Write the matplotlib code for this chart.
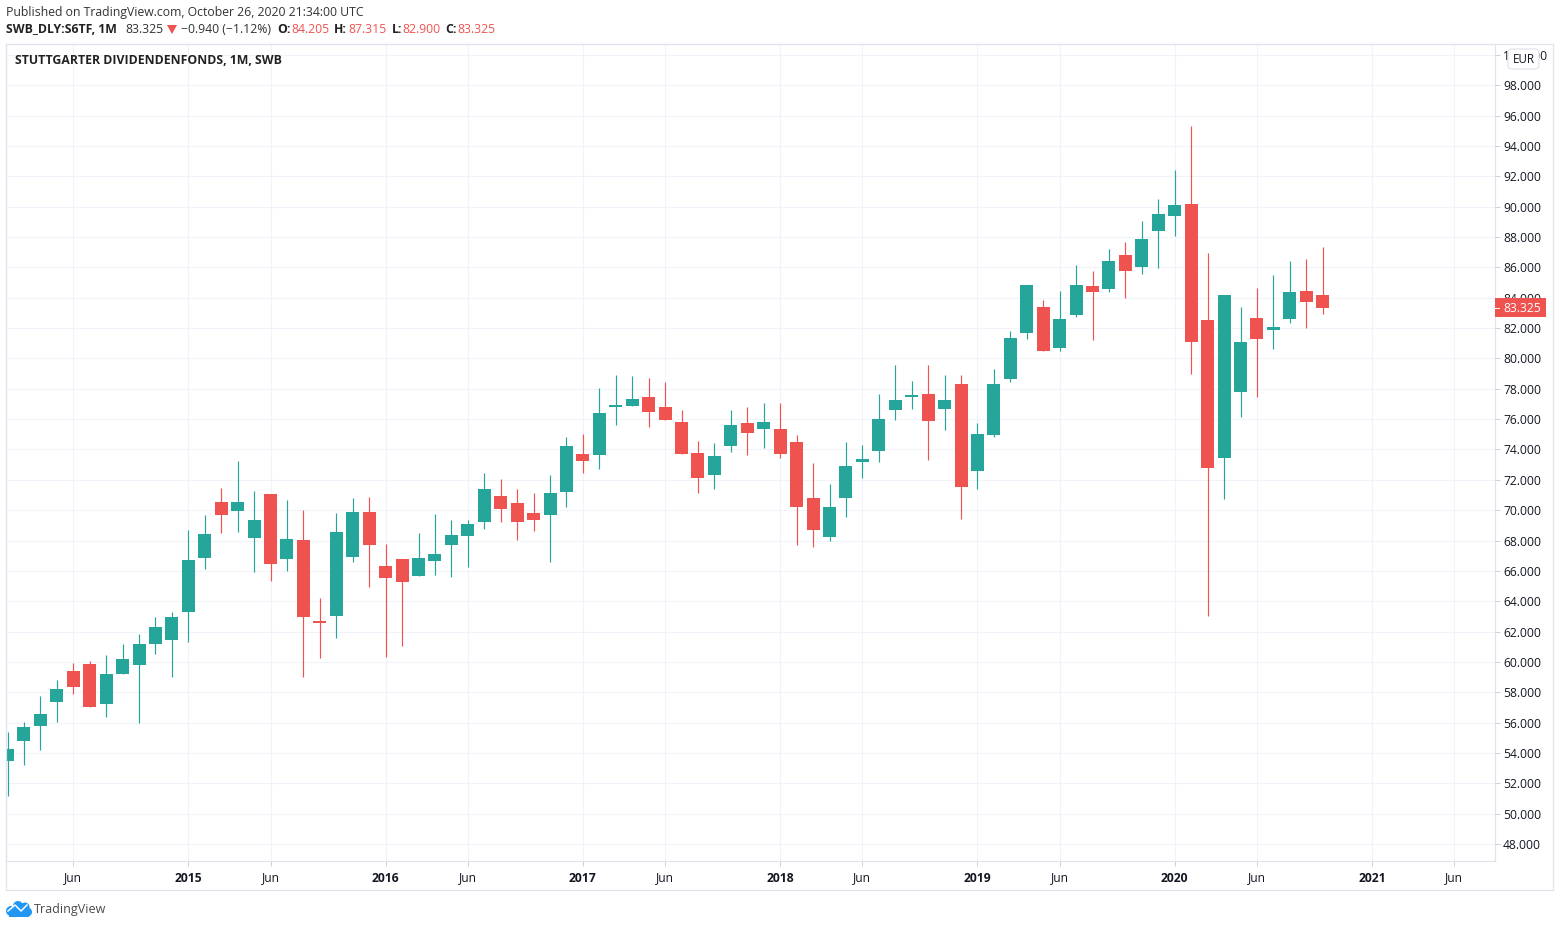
import matplotlib
matplotlib.use("Agg")
import matplotlib.pyplot as plt
from matplotlib.patches import Rectangle, FancyBboxPatch, Circle, Polygon
from matplotlib.transforms import blended_transform_factory

W, H = 1560, 927
plt.rcParams['font.family'] = ['Open Sans', 'DejaVu Sans']

# Monthly candles, Feb 2014 .. Oct 2020
opens = [53.47,54.79,55.78,57.36,59.40,59.86,57.23,59.20,59.80,61.18,61.44,
 63.29,66.85,70.54,69.95,68.17,71.07,66.78,68.03,62.70,63.03,66.91,69.88,
 66.32,66.78,65.66,66.65,67.70,68.30,69.22,70.93,70.47,69.81,69.68,71.20,
 73.70,73.64,76.80,76.86,77.46,76.80,75.81,73.77,72.32,74.23,75.74,75.35,
 75.35,74.49,70.80,68.23,70.80,73.17,73.90,76.60,77.46,77.66,76.67,78.31,
 72.58,74.95,78.64,81.68,83.39,80.69,82.86,84.77,84.57,86.82,86.02,88.40,
 89.39,90.18,82.53,73.44,77.79,82.66,81.87,82.60,84.44,84.205]
highs = [55.38,56.04,57.75,58.81,59.93,60.06,60.46,61.18,61.84,62.96,63.29,
 68.69,69.68,71.46,73.24,71.26,71.07,70.67,70.01,64.21,69.81,70.80,70.87,
 67.77,66.78,68.50,69.75,69.35,69.35,72.45,72.05,71.39,71.13,72.32,74.82,
 75.02,78.05,78.91,78.84,78.71,78.45,76.60,74.56,74.43,76.60,76.80,77.06,
 77.06,74.95,73.11,71.72,74.49,74.29,77.66,79.57,78.51,79.57,78.91,78.91,
 75.74,79.30,81.81,84.84,83.85,84.44,86.16,85.76,87.21,87.67,89.06,90.51,
 92.42,95.32,86.95,84.18,83.39,84.64,85.50,86.42,86.55,87.315]
lows = [51.16,53.21,54.19,56.04,57.89,57.03,56.37,59.20,55.97,60.52,59.01,
 61.31,66.12,68.50,68.56,65.93,65.33,65.99,59.01,60.26,61.58,66.58,64.94,
 60.32,61.05,65.66,65.73,65.60,66.25,68.76,69.22,68.03,68.63,66.58,70.21,
 72.45,72.71,75.61,76.86,75.48,75.94,73.70,71.13,71.39,73.83,73.64,74.10,
 73.44,67.70,67.57,67.97,69.55,72.12,73.17,75.94,76.67,73.31,75.28,69.42,
 71.39,74.82,78.45,81.28,80.49,80.49,82.73,81.21,84.38,83.98,85.56,85.96,
 88.07,78.97,63.03,70.74,76.14,77.46,80.62,82.33,82.00,82.900]
closes = [54.26,55.71,56.57,58.21,58.35,57.03,59.20,60.19,61.18,62.30,62.96,
 66.72,68.43,69.68,70.54,69.35,66.45,68.10,62.96,62.56,68.56,69.88,67.70,
 65.53,65.27,66.85,67.11,68.36,69.09,71.39,70.08,69.22,69.35,71.13,74.23,
 73.24,76.40,76.93,77.33,76.47,75.94,73.70,72.12,73.57,75.61,75.09,75.81,
 73.70,70.21,68.69,70.21,72.91,73.37,76.01,77.26,77.59,75.88,77.26,71.53,
 75.02,78.31,81.35,84.84,80.49,82.60,84.84,84.38,86.42,85.76,87.87,89.52,
 90.11,81.08,72.78,84.18,81.08,81.28,82.07,84.38,83.72,83.325]

price_ticks = [48,50,52,54,56,58,60,62,64,66,68,70,72,74,76,78,80,82,84,86,88,90,92,94,96,98,100]
time_tick_pos = [4,11,16,23,28,35,40,47,52,59,64,71,76,83,88]
time_tick_labels = ['Jun','2015','Jun','2016','Jun','2017','Jun','2018','Jun','2019','Jun','2020','Jun','2021','Jun']

GREEN, RED = '#26A69A', '#EF5350'
GRID, FRAME, INK = '#F0F3FA', '#E0E3EB', '#131722'

fig = plt.figure(figsize=(W/100, H/100), dpi=100, facecolor='white')
L, R, T, B = 6, 1495, 44, 861
ax = fig.add_axes([L/W, 1-B/H, (R-L)/W, (B-T)/H], facecolor='white')

PX_PER_MONTH = 16.44
X0 = 7.5
ax.set_xlim((L-X0)/PX_PER_MONTH, (R-X0)/PX_PER_MONTH)
ax.set_ylim(46.88, 100.72)

for i, (o, h, l, c) in enumerate(zip(opens, highs, lows, closes)):
    col = GREEN if c >= o else RED
    ax.vlines(i, l, h, color=col, lw=0.85, zorder=3)
    ax.bar(i, abs(c-o), bottom=min(o, c), width=13/PX_PER_MONTH, color=col, lw=0, zorder=4)

TICK_SIZE = 8.7
ax.set_axisbelow(True)
ax.yaxis.tick_right()
ax.set_yticks(price_ticks)
ax.set_yticklabels([f'{v:.3f}' for v in price_ticks], fontsize=TICK_SIZE, color=INK)
ax.set_xticks(time_tick_pos)
ax.set_xticklabels(time_tick_labels, fontsize=TICK_SIZE, color=INK)
for lab in ax.get_xticklabels():
    if lab.get_text() != 'Jun':
        lab.set_fontweight('bold')
ax.tick_params(axis='y', length=3.6, width=0.72, color='#CDD0D8', pad=2.2, right=True)
ax.tick_params(axis='x', length=3.4, width=0.72, color='#CDD0D8', pad=4.2)
ax.grid(True, color=GRID, lw=0.75)
for s in ax.spines.values():
    s.set_color(FRAME)
    s.set_linewidth(0.85)

# last price tag
tr = blended_transform_factory(ax.transAxes, ax.transData)
last = closes[-1]
ax.add_patch(Rectangle((1.0, last-0.59), 51/(R-L), 1.24, transform=tr, color=RED, lw=0, clip_on=False, zorder=6))
ax.text(1+8.5/(R-L), last-0.06, f'{last:.3f}', transform=tr, color='white', fontsize=TICK_SIZE,
        va='center', ha='left', zorder=7, clip_on=False)
ax.plot([1.0, 1+4/(R-L)], [last, last], transform=tr, color='white', lw=0.72, zorder=7, clip_on=False)

# overlay in pixels
ov = fig.add_axes([0, 0, 1, 1], facecolor='none', zorder=10)
ov.set_xlim(0, W); ov.set_ylim(H, 0); ov.axis('off')

ov.add_patch(Rectangle((5.5, 43.5), 1547, 846, fill=False, ec=FRAME, lw=0.85))
ov.add_patch(FancyBboxPatch((1510, 51), 27, 16, boxstyle='round,pad=2,rounding_size=4',
                            fc='white', ec=FRAME, lw=0.85))
ov.text(1523.5, 59.5, 'EUR', ha='center', va='center', fontsize=8.4, color=INK)

def t(x, y, s, color=INK, weight='normal', size=8.6, ha='left'):
    ov.text(x, y, s, color=color, fontweight=weight, fontsize=size, ha=ha, va='center')

HS = 8.8
BS = 8.85
t(6, 12.5, 'Published on TradingView.com, October 26, 2020 21:34:00 UTC', '#333333', size=HS)
t(6, 29.5, 'SWB_DLY:S6TF, 1M', '#222222', 'bold', BS)
t(125, 29.5, '83.325', '#333333', size=HS)
ov.add_patch(Polygon([(167, 25), (177, 25), (172, 34)], closed=True, color=RED, lw=0))
t(181, 29.5, '\u22120.940 (\u22121.12%)', '#333333', size=HS)
for x1, lab, x2, val in [(277, 'O:', 291, '84.205'), (334, 'H:', 348, '87.315'),
                         (392, 'L:', 402, '82.900'), (445, 'C:', 457, '83.325')]:
    t(x1, 29.5, lab, '#222222', 'bold', BS)
    t(x2, 29.5, val, RED, size=HS)
t(15, 60.5, 'STUTTGARTER DIVIDENDENFONDS, 1M, SWB', '#222222', 'bold', BS)

# logo
BLUE = '#2196F3'
for cx, cy, r in [(11, 911, 5), (18, 906, 5), (25, 907, 4.5), (27.5, 912, 4.5), (18, 912, 5)]:
    ov.add_patch(Circle((cx, cy), r, color=BLUE, lw=0))
ov.add_patch(Rectangle((9, 911), 20, 5.5, color=BLUE, lw=0))
ov.plot([8, 15, 21, 27], [911, 905, 911, 905], color='white', lw=1.1, solid_joinstyle='round')
t(34, 909, 'TradingView', '#4A4A4A', size=9.0)

fig.savefig('out.png', dpi=100, facecolor='white')
